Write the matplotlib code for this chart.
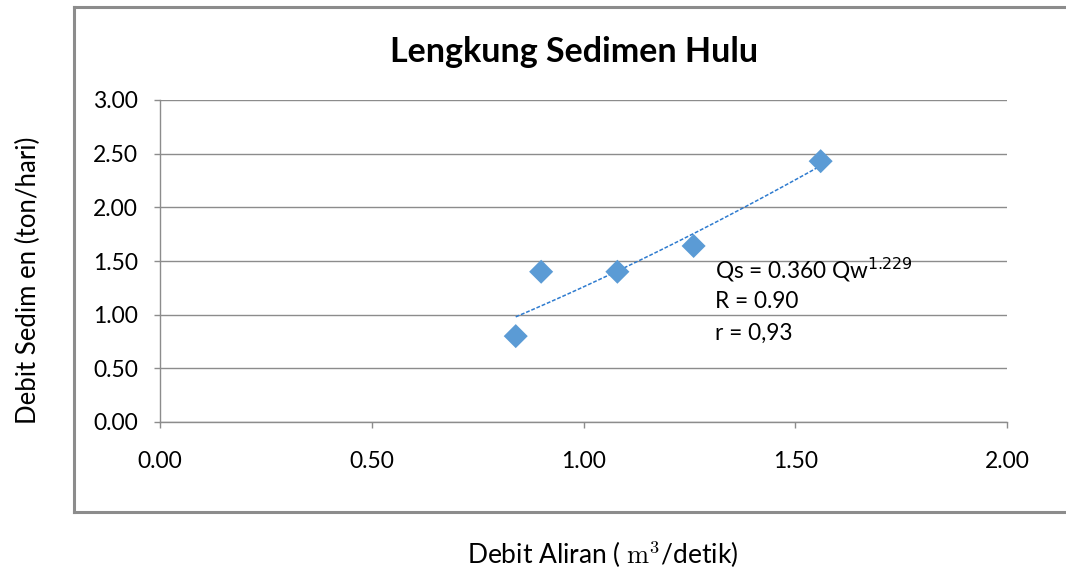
import numpy as np
import matplotlib
matplotlib.use("Agg")
import matplotlib.pyplot as plt
from matplotlib.lines import Line2D

plt.rcParams['font.family'] = ['Lato', 'DejaVu Sans']

# Data
debit_aliran = [0.84, 0.90, 1.08, 1.26, 1.56]     # m3/detik
debit_sedimen = [0.80, 1.40, 1.40, 1.64, 2.43]    # ton/hari
x_ticks = [0.0, 0.5, 1.0, 1.5, 2.0]
y_ticks = [0.0, 0.5, 1.0, 1.5, 2.0, 2.5, 3.0]
notes = ["Qs = 0.360 Qw$^{1.229}$", "R = 0.90", "r = 0,93"]

W, H = 1066, 576
fig = plt.figure(figsize=(W / 100, H / 100), dpi=100)

# outer chart border (right side runs off the image)
border = dict(color="#8c8c8c", linewidth=2.2, transform=fig.transFigure)
fig.add_artist(Line2D([74 / W, 1.01], [1 - 7 / H, 1 - 7 / H], **border))
fig.add_artist(Line2D([74 / W, 74 / W], [1 - 7 / H, 1 - 512 / H], **border))
fig.add_artist(Line2D([74 / W, 1.01], [1 - 512 / H, 1 - 512 / H], **border))

ax = fig.add_axes([160 / W, 1 - 422 / H, 847 / W, 322 / H])

# power trendline fitted on the points
b, ln_a = np.polyfit(np.log(debit_aliran), np.log(debit_sedimen), 1)
xs = np.linspace(min(debit_aliran), max(debit_aliran), 100)
ax.plot(xs, np.exp(ln_a) * xs ** b, color="#2E7BCF", linewidth=1.1,
        linestyle=(0, (2.5, 1.2)), zorder=3)

ax.scatter(debit_aliran, debit_sedimen, marker="D", s=150, color="#5B9BD5",
           edgecolors="none", zorder=4)

ax.set_xlim(0, 2)
ax.set_ylim(0, 3)
ax.set_xticks(x_ticks)
ax.set_yticks(y_ticks)
ax.set_xticklabels([f"{v:.2f}" for v in x_ticks])
ax.set_yticklabels([f"{v:.2f}" for v in y_ticks])
ax.grid(axis="y", color="#8c8c8c", linewidth=1.0)
ax.set_axisbelow(True)
for side in ["top", "right"]:
    ax.spines[side].set_visible(False)
for side in ["left", "bottom"]:
    ax.spines[side].set_color("#8c8c8c")
    ax.spines[side].set_linewidth(1.0)
ax.tick_params(axis="both", colors="#8c8c8c", labelcolor="black",
               labelsize=16.5, length=4, width=1.0)
ax.tick_params(axis="x", pad=17)
ax.tick_params(axis="y", pad=12)

for i, t in enumerate(notes):
    ax.text(1.31, 1.42 - i * 0.295, t, fontsize=16.3, va="center", ha="left")

fig.text(574 / W, 1 - 52 / H, "Lengkung Sedimen Hulu", fontsize=24.5,
         fontweight="bold", ha="center", va="center")
fig.text(28 / W, 1 - 280 / H, "Debit Sedim en (ton/hari)", fontsize=18.5,
         rotation=90, ha="center", va="center")
fig.text(603 / W, 1 - 555 / H, "Debit Aliran ( $\\mathrm{m}^\\mathrm{3}$/detik)",
         fontsize=19, ha="center", va="center", math_fontfamily="cm")

fig.savefig("out.png", dpi=100)
